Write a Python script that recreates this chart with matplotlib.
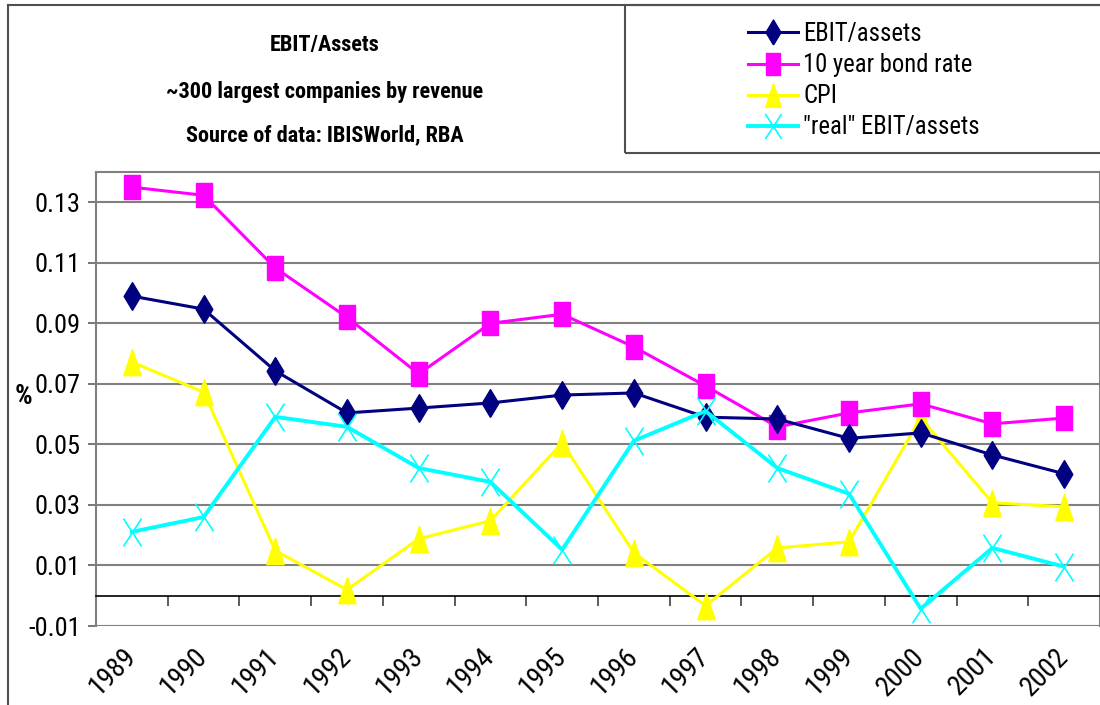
import matplotlib
matplotlib.use("Agg")
import matplotlib.pyplot as plt
import matplotlib.transforms as mtransforms
from matplotlib.patches import Rectangle
from matplotlib.lines import Line2D
from matplotlib.path import Path
import numpy as np

plt.rcParams['font.family'] = ['Roboto Condensed', 'Liberation Sans Narrow',
                               'Liberation Sans', 'DejaVu Sans']

years = ['1989', '1990', '1991', '1992', '1993', '1994', '1995',
         '1996', '1997', '1998', '1999', '2000', '2001', '2002']
ebit_assets = [0.099, 0.0947, 0.0743, 0.0604, 0.062, 0.0637, 0.0663,
               0.067, 0.059, 0.0584, 0.052, 0.0538, 0.0465, 0.0403]
bond_rate = [0.135, 0.1323, 0.1083, 0.092, 0.0733, 0.090, 0.093,
             0.0822, 0.0693, 0.0558, 0.0604, 0.0634, 0.0568, 0.0587]
cpi = [0.0772, 0.0673, 0.0149, 0.002, 0.0188, 0.0248, 0.0505,
       0.0142, -0.0033, 0.0158, 0.0178, 0.0587, 0.0307, 0.0294]
real_ebit = [0.0211, 0.026, 0.0591, 0.0558, 0.0422, 0.0376, 0.0152,
             0.0512, 0.061, 0.0422, 0.0337, -0.0043, 0.0158, 0.0096]
yticks = [-0.01, 0.01, 0.03, 0.05, 0.07, 0.09, 0.11, 0.13]

# tall markers (the original chart is stretched vertically)
m_diamond = [(0, -1), (0.6, 0), (0, 1), (-0.6, 0), (0, -1)]
m_square = [(-0.67, -1), (0.67, -1), (0.67, 1), (-0.67, 1), (-0.67, -1)]
m_triangle = [(0, 1), (0.66, -1), (-0.66, -1), (0, 1)]
m_x = Path([(-0.65, -1), (0.65, 1), (-0.65, 1), (0.65, -1)],
           [Path.MOVETO, Path.LINETO, Path.MOVETO, Path.LINETO])

W, H = 1100, 705
fig = plt.figure(figsize=(W / 100, H / 100), dpi=100)
ax = fig.add_axes([96 / W, 1 - 626 / H, 1 - 96 / W, (626 - 172) / H])

x = np.arange(len(years))
ax.plot(x, ebit_assets, color='#000080', lw=2.2, marker=m_diamond, ms=20,
        label='EBIT/assets', zorder=5)
ax.plot(x, bond_rate, color='#FF00FF', lw=2.2, marker=m_square, ms=17,
        label='10 year bond rate', zorder=4)
ax.plot(x, cpi, color='#FFFF00', lw=2.2, marker=m_triangle, ms=19,
        label='CPI', zorder=3)
ax.plot(x, real_ebit, color='#00FFFF', lw=2.8, marker=m_x, ms=20, mew=1.2,
        mfc='none', label='"real" EBIT/assets', zorder=6)

ax.set_xlim(-0.5, len(years) - 0.5)
ax.set_ylim(-0.01, 0.14)
ax.set_yticks(yticks)
ax.set_yticklabels([f'{v:.2f}' for v in yticks])
ax.yaxis.grid(True, color='#808080', lw=1.5)
ax.set_axisbelow(True)
ax.tick_params(axis='y', length=6, width=1.2, color='#606060',
               labelsize=19, pad=5)

# zero line with category boundary ticks
ax.spines['bottom'].set_position(('data', 0))
ax.spines['bottom'].set_color('black')
ax.spines['bottom'].set_linewidth(1.2)
ax.set_xticks(np.arange(-0.5, len(years), 1.0))
ax.set_xticklabels([])
ax.tick_params(axis='x', length=7, width=1.2, color='#404040', direction='out')
for s in ['left', 'top', 'right']:
    ax.spines[s].set_color('#808080')
    ax.spines[s].set_linewidth(1.5)

trans = mtransforms.blended_transform_factory(ax.transData, ax.transAxes)
for i, yr in enumerate(years):
    ax.text(i, -0.058, yr, transform=trans, rotation=45, rotation_mode='anchor',
            ha='right', va='center', fontsize=20)

fig.text(23 / W, 1 - 397 / H, '%', fontsize=20, fontweight='bold',
         ha='center', va='center')

# titles
for txt, yy in [('EBIT/Assets', 45), ('~300 largest companies by revenue', 92),
                ('Source of data: IBISWorld, RBA', 135)]:
    fig.text(325 / W, 1 - yy / H, txt, fontsize=16, fontweight='bold',
             ha='center', va='center')

# outer chart frame
fig.add_artist(Line2D([8 / W, 8 / W], [0, 1 - 5 / H], color='#505050', lw=1.5))
fig.add_artist(Line2D([8 / W, 1], [1 - 5 / H, 1 - 5 / H], color='#505050', lw=1.5))

# legend box
fig.add_artist(Rectangle((625 / W, 1 - 153 / H), (W + 10 - 625) / W, 148 / H,
                         transform=fig.transFigure, fill=False,
                         edgecolor='#505050', lw=1.5, clip_on=False))
fig.legend(loc='upper left', bbox_to_anchor=(748 / W, 1 - 22 / H), frameon=False,
           fontsize=17.7, handlelength=2.05, handletextpad=0.2, labelspacing=0.29,
           borderpad=0, borderaxespad=0, markerscale=0.9)

fig.savefig('out.png', dpi=100)
